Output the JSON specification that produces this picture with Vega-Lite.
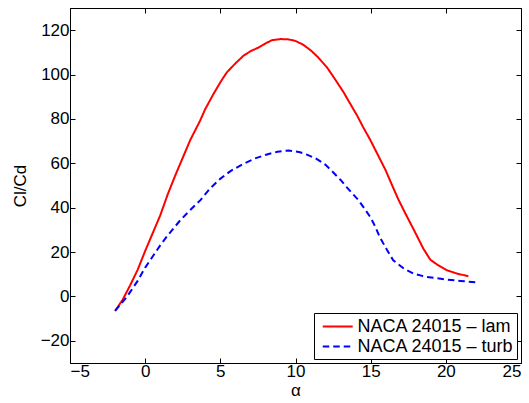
{
  "$schema": "https://vega.github.io/schema/vega-lite/v6.json",
  "width": 451,
  "height": 355,
  "autosize": "none",
  "padding": {"left": 70, "top": 8, "right": 8, "bottom": 40},
  "background": "white",
  "config": {
    "view": {"stroke": "black", "strokeWidth": 1},
    "font": "Liberation Sans",
    "axis": {
      "grid": false,
      "domainColor": "black",
      "domainWidth": 1,
      "tickColor": "black",
      "tickWidth": 1,
      "tickSize": -5,
      "labelColor": "black",
      "labelFont": "Liberation Sans",
      "labelFontSize": 17,
      "labelFontWeight": "normal",
      "titleColor": "black",
      "titleFont": "Liberation Sans",
      "titleFontSize": 17,
      "titleFontWeight": "normal"
    },
    "legend": {
      "orient": "bottom-right",
      "offset": 4,
      "strokeColor": "black",
      "fillColor": "white",
      "padding": 3,
      "labelFont": "Liberation Sans",
      "labelFontSize": 18,
      "labelColor": "black",
      "labelOffset": 19.5,
      "symbolType": "M-0.5,0H2.65",
      "symbolSize": 361,
      "symbolStrokeWidth": 2,
      "rowPadding": 0
    }
  },
  "data": {
    "values": [
      {"a": -2, "v": -6.5, "s": "NACA 24015 – lam"},
      {"a": -1.5, "v": -1.5, "s": "NACA 24015 – lam"},
      {"a": -1, "v": 5, "s": "NACA 24015 – lam"},
      {"a": -0.5, "v": 12, "s": "NACA 24015 – lam"},
      {"a": 0, "v": 20.5, "s": "NACA 24015 – lam"},
      {"a": 0.5, "v": 28.5, "s": "NACA 24015 – lam"},
      {"a": 1, "v": 36.5, "s": "NACA 24015 – lam"},
      {"a": 1.5, "v": 46, "s": "NACA 24015 – lam"},
      {"a": 2, "v": 54.5, "s": "NACA 24015 – lam"},
      {"a": 2.5, "v": 62.5, "s": "NACA 24015 – lam"},
      {"a": 3, "v": 70.5, "s": "NACA 24015 – lam"},
      {"a": 3.66, "v": 79.3, "s": "NACA 24015 – lam"},
      {"a": 4, "v": 84.5, "s": "NACA 24015 – lam"},
      {"a": 4.54, "v": 91.2, "s": "NACA 24015 – lam"},
      {"a": 5, "v": 96.5, "s": "NACA 24015 – lam"},
      {"a": 5.43, "v": 101, "s": "NACA 24015 – lam"},
      {"a": 6, "v": 105, "s": "NACA 24015 – lam"},
      {"a": 6.54, "v": 108.5, "s": "NACA 24015 – lam"},
      {"a": 7, "v": 110.5, "s": "NACA 24015 – lam"},
      {"a": 7.54, "v": 112.2, "s": "NACA 24015 – lam"},
      {"a": 8, "v": 114, "s": "NACA 24015 – lam"},
      {"a": 8.43, "v": 115.5, "s": "NACA 24015 – lam"},
      {"a": 9, "v": 116, "s": "NACA 24015 – lam"},
      {"a": 9.5, "v": 115.9, "s": "NACA 24015 – lam"},
      {"a": 9.98, "v": 115.2, "s": "NACA 24015 – lam"},
      {"a": 10.5, "v": 113.5, "s": "NACA 24015 – lam"},
      {"a": 11, "v": 111, "s": "NACA 24015 – lam"},
      {"a": 11.5, "v": 107.8, "s": "NACA 24015 – lam"},
      {"a": 12.1, "v": 103.2, "s": "NACA 24015 – lam"},
      {"a": 12.6, "v": 98.2, "s": "NACA 24015 – lam"},
      {"a": 13.2, "v": 92, "s": "NACA 24015 – lam"},
      {"a": 13.6, "v": 87.3, "s": "NACA 24015 – lam"},
      {"a": 14.1, "v": 81.5, "s": "NACA 24015 – lam"},
      {"a": 14.5, "v": 76.3, "s": "NACA 24015 – lam"},
      {"a": 15, "v": 70.2, "s": "NACA 24015 – lam"},
      {"a": 15.5, "v": 63.5, "s": "NACA 24015 – lam"},
      {"a": 16, "v": 56.8, "s": "NACA 24015 – lam"},
      {"a": 16.4, "v": 50.5, "s": "NACA 24015 – lam"},
      {"a": 16.85, "v": 43.6, "s": "NACA 24015 – lam"},
      {"a": 17.3, "v": 37.5, "s": "NACA 24015 – lam"},
      {"a": 17.85, "v": 30.3, "s": "NACA 24015 – lam"},
      {"a": 18.5, "v": 21.6, "s": "NACA 24015 – lam"},
      {"a": 18.96, "v": 16.6, "s": "NACA 24015 – lam"},
      {"a": 19.5, "v": 14, "s": "NACA 24015 – lam"},
      {"a": 20.07, "v": 11.8, "s": "NACA 24015 – lam"},
      {"a": 20.74, "v": 10.3, "s": "NACA 24015 – lam"},
      {"a": 21.5, "v": 9.1, "s": "NACA 24015 – lam"},
      {"a": -2, "v": -6.5, "s": "NACA 24015 – turb"},
      {"a": -1.22, "v": -0.2, "s": "NACA 24015 – turb"},
      {"a": -0.5, "v": 7, "s": "NACA 24015 – turb"},
      {"a": 0, "v": 13, "s": "NACA 24015 – turb"},
      {"a": 0.5, "v": 18, "s": "NACA 24015 – turb"},
      {"a": 1, "v": 23, "s": "NACA 24015 – turb"},
      {"a": 1.5, "v": 27.5, "s": "NACA 24015 – turb"},
      {"a": 2.33, "v": 34.3, "s": "NACA 24015 – turb"},
      {"a": 3, "v": 39, "s": "NACA 24015 – turb"},
      {"a": 3.66, "v": 43.3, "s": "NACA 24015 – turb"},
      {"a": 4.3, "v": 48.5, "s": "NACA 24015 – turb"},
      {"a": 4.99, "v": 53, "s": "NACA 24015 – turb"},
      {"a": 5.7, "v": 56.6, "s": "NACA 24015 – turb"},
      {"a": 6.54, "v": 59.8, "s": "NACA 24015 – turb"},
      {"a": 7.3, "v": 62.2, "s": "NACA 24015 – turb"},
      {"a": 8.1, "v": 64, "s": "NACA 24015 – turb"},
      {"a": 8.8, "v": 65.2, "s": "NACA 24015 – turb"},
      {"a": 9.54, "v": 65.8, "s": "NACA 24015 – turb"},
      {"a": 10.3, "v": 65, "s": "NACA 24015 – turb"},
      {"a": 10.8, "v": 63.8, "s": "NACA 24015 – turb"},
      {"a": 11.4, "v": 62, "s": "NACA 24015 – turb"},
      {"a": 12, "v": 59.3, "s": "NACA 24015 – turb"},
      {"a": 12.5, "v": 56, "s": "NACA 24015 – turb"},
      {"a": 13, "v": 52.5, "s": "NACA 24015 – turb"},
      {"a": 13.4, "v": 49.3, "s": "NACA 24015 – turb"},
      {"a": 13.8, "v": 46.3, "s": "NACA 24015 – turb"},
      {"a": 14.2, "v": 43.3, "s": "NACA 24015 – turb"},
      {"a": 14.6, "v": 39.5, "s": "NACA 24015 – turb"},
      {"a": 15, "v": 35.5, "s": "NACA 24015 – turb"},
      {"a": 15.3, "v": 31.5, "s": "NACA 24015 – turb"},
      {"a": 15.6, "v": 26.8, "s": "NACA 24015 – turb"},
      {"a": 16.1, "v": 20.8, "s": "NACA 24015 – turb"},
      {"a": 16.5, "v": 16.3, "s": "NACA 24015 – turb"},
      {"a": 17.2, "v": 12.6, "s": "NACA 24015 – turb"},
      {"a": 17.85, "v": 10.3, "s": "NACA 24015 – turb"},
      {"a": 18.7, "v": 8.8, "s": "NACA 24015 – turb"},
      {"a": 20.07, "v": 7.6, "s": "NACA 24015 – turb"},
      {"a": 20.96, "v": 7.0, "s": "NACA 24015 – turb"},
      {"a": 21.96, "v": 6.4, "s": "NACA 24015 – turb"}
    ]
  },
  "layer": [
    {
      "mark": {"type": "line", "strokeWidth": 2, "clip": true},
      "encoding": {
        "x": {"field": "a", "type": "quantitative", "scale": {"domain": [-5, 25], "nice": false, "zero": false},
              "axis": {"orient": "bottom", "title": "α", "values": [-5, 0, 5, 10, 15, 20, 25], "labelPadding": 5, "titlePadding": 3}},
        "y": {"field": "v", "type": "quantitative", "scale": {"domain": [-30, 130], "nice": false, "zero": false},
              "axis": {"orient": "left", "title": "Cl/Cd", "values": [-20, 0, 20, 40, 60, 80, 100, 120], "labelPadding": 6, "titlePadding": 11}},
        "color": {"field": "s", "type": "nominal", "title": null,
                  "scale": {"domain": ["NACA 24015 – lam", "NACA 24015 – turb"], "range": ["#ff0000", "#0000ff"]}},
        "strokeDash": {"field": "s", "type": "nominal", "title": null,
                  "scale": {"domain": ["NACA 24015 – lam", "NACA 24015 – turb"], "range": [[1, 0], [6.5, 4]]}}
      }
    },
    {
      "mark": {"type": "line", "opacity": 0},
      "encoding": {
        "x": {"field": "a", "type": "quantitative",
              "axis": {"orient": "top", "title": null, "labels": false, "values": [-5, 0, 5, 10, 15, 20, 25]}},
        "y": {"field": "v", "type": "quantitative",
              "axis": {"orient": "right", "title": null, "labels": false, "values": [-20, 0, 20, 40, 60, 80, 100, 120]}},
        "detail": {"field": "s"}
      }
    }
  ],
  "resolve": {"axis": {"x": "independent", "y": "independent"}}
}
